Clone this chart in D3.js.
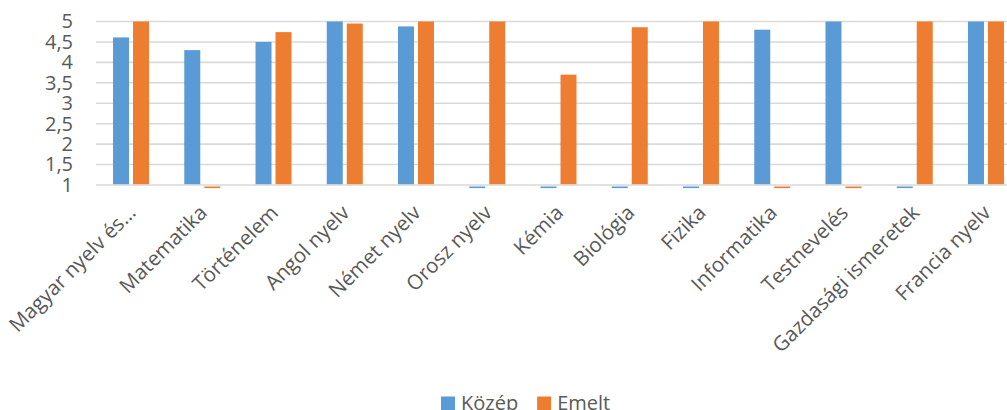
<!DOCTYPE html>
<html>
<head>
<meta charset="utf-8">
<script src="https://cdn.jsdelivr.net/npm/d3@7"></script>
<style>
  html, body { margin: 0; padding: 0; background: #fff; overflow: hidden; }
  svg { display: block; font-family: "Open Sans", sans-serif; }
</style>
</head>
<body>
<svg id="chart" width="1007" height="410"></svg>
<script>
const categories = ["Magyar nyelv és…", "Matematika", "Történelem", "Angol nyelv", "Német nyelv", "Orosz nyelv", "Kémia", "Biológia", "Fizika", "Informatika", "Testnevelés", "Gazdasági ismeretek", "Francia nyelv"];
const seriesNames = ["Közép", "Emelt"];
const kozep = [4.61, 4.3, 4.5, 5, 4.88, null, null, null, null, 4.8, 5, null, 5];
const emelt = [5, null, 4.74, 4.95, 5, 5, 3.7, 4.86, 5, null, null, 5, 5];
const yTicks = [1, 1.5, 2, 2.5, 3, 3.5, 4, 4.5, 5];
const colors = ["#5B9BD5", "#ED7D31"];

const svg = d3.select("#chart");
const plotLeft = 96, plotRight = 1007;
const x = d3.scaleBand().domain(categories).range([95.4, 1021.6]).padding(0);
const xSub = d3.scaleBand().domain(seriesNames).range([-18, 18]).paddingInner(0.2);
const y = d3.scaleLinear().domain([1, 5]).range([185, 21.5]);

// gridlines
svg.append("g").selectAll("line").data(yTicks).join("line")
  .attr("x1", plotLeft).attr("x2", plotRight)
  .attr("y1", d => y(d)).attr("y2", d => y(d))
  .attr("stroke", "#d9d9d9").attr("stroke-width", 1.6);

// y labels
const yAxis = d3.axisLeft(y).tickValues(yTicks).tickSize(0).tickPadding(0)
  .tickFormat(d => String(d).replace(".", ","));
const yg = svg.append("g").attr("transform", "translate(73,0)").call(yAxis);
yg.select(".domain").remove();
yg.selectAll("text").attr("font-size", 20).attr("fill", "#595959")
  .attr("font-family", "'Open Sans', sans-serif");

// bars
const data = [];
categories.forEach((c, i) => {
  data.push({ cat: c, s: seriesNames[0], v: kozep[i], col: colors[0] });
  data.push({ cat: c, s: seriesNames[1], v: emelt[i], col: colors[1] });
});
const cx = c => x(c) + x.bandwidth() / 2;
svg.append("g").selectAll("rect").data(data).join("rect")
  .attr("x", d => cx(d.cat) + xSub(d.s))
  .attr("width", xSub.bandwidth())
  .attr("y", d => d.v == null ? y(1) + 1.5 : y(d.v))
  .attr("height", d => d.v == null ? 1.6 : y(1) - y(d.v) - 0.8)
  .attr("fill", d => d.col);

// x labels
svg.append("g").selectAll("text").data(categories).join("text")
  .attr("transform", d => `translate(${cx(d) + 6},${214}) rotate(-45)`)
  .attr("text-anchor", "end")
  .attr("font-size", 20.5).attr("fill", "#595959")
  .text(d => d);

// legend
const lg = svg.append("g");
let lx = 441;
seriesNames.forEach((s, i) => {
  lg.append("rect").attr("x", lx).attr("y", 396.5).attr("width", 14).attr("height", 14).attr("fill", colors[i]);
  const t = lg.append("text").attr("x", lx + 20).attr("y", 410).attr("font-size", 20).attr("fill", "#595959").text(s);
  lx += 20 + t.node().getComputedTextLength() + 19;
});
</script>
</body>
</html>
